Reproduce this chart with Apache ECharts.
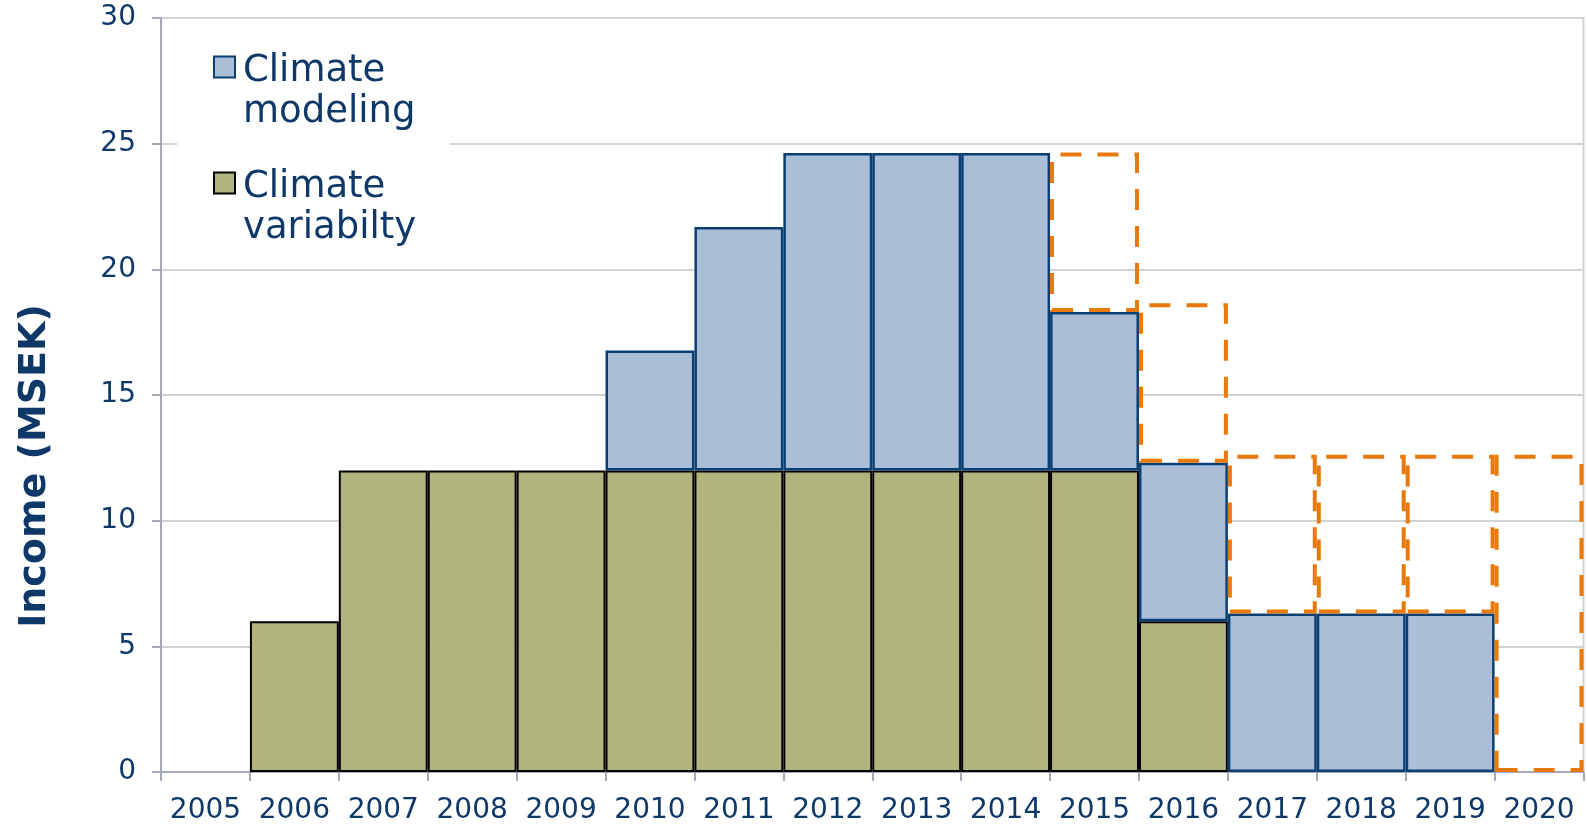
<!DOCTYPE html>
<html>
<head>
<meta charset="utf-8">
<script src="https://cdn.jsdelivr.net/npm/echarts@6/dist/echarts.min.js"></script>
<style>
html,body{margin:0;padding:0;background:#fff;}
#chart{width:1587px;height:825px;}
</style>
</head>
<body>
<div id="chart"></div>
<script>
var years = ['2005','2006','2007','2008','2009','2010','2011','2012','2013','2014','2015','2016','2017','2018','2019','2020'];
var variability = [null, 6, 12, 12, 12, 12, 12, 12, 12, 12, 12, 6, null, null, null, null];
var modeling = [null, null, null, null, null, 4.77, 9.68, 12.63, 12.63, 12.63, 6.3, 6.3, 6.31, 6.31, 6.31, null];
var planned = [null, null, null, null, null, null, null, null, null, null, 6.35, 6.35, 6.31, 6.31, 6.31, 12.62];
var yTicks = [0, 5, 10, 15, 20, 25, 30];

var navy = '#0D3868';
var font = 'DejaVu Sans, Verdana, sans-serif';
var axisGray = '#A5A8B5';
var gridGray = '#D2D2D2';

var chart = echarts.init(document.getElementById('chart'), null, {renderer: 'canvas'});
chart.setOption({
  animation: false,
  backgroundColor: '#fff',
  grid: {left: 161, right: 3.5, top: 18, bottom: 51, show: true, borderColor: gridGray, borderWidth: 2, backgroundColor: 'transparent'},
  graphic: [{
    type: 'rect', left: 177, top: 30, z: 1, silent: true,
    shape: {width: 273, height: 232},
    style: {fill: '#fff'}
  }],
  legend: {
    orient: 'vertical',
    left: 213,
    top: 21,
    padding: 0,
    icon: 'rect',
    itemWidth: 21,
    itemHeight: 21,
    itemGap: 6,
    selectedMode: false,
    formatter: function (n) {
      var parts = n.split(' ');
      return '{s| }\n{a|' + parts[0] + '}\n{a|' + parts[1] + '}';
    },
    textStyle: {
      fontFamily: font, fontSize: 37, color: navy,
      rich: {
        s: {fontSize: 10, lineHeight: 50},
        a: {fontFamily: font, fontSize: 37, lineHeight: 41, color: navy, padding: [0, 0, 0, 3]}
      }
    },
    data: [
      {name: 'Climate modeling', itemStyle: {color: '#AABFD7', borderColor: '#0A3F73', borderWidth: 2}},
      {name: 'Climate variabilty', itemStyle: {color: '#B1B57D', borderColor: '#000', borderWidth: 2}}
    ]
  },
  xAxis: {
    type: 'category',
    data: years,
    boundaryGap: true,
    axisLine: {lineStyle: {color: axisGray, width: 2}},
    axisTick: {show: true, alignWithLabel: false, length: 9, lineStyle: {color: axisGray, width: 2}},
    axisLabel: {interval: 0, margin: 25, fontFamily: font, fontSize: 28, color: navy},
    splitLine: {show: false}
  },
  yAxis: {
    type: 'value',
    min: yTicks[0],
    max: yTicks[yTicks.length - 1],
    interval: 5,
    name: 'Income (MSEK)',
    nameLocation: 'middle',
    nameRotate: 90,
    nameGap: 107,
    nameTextStyle: {fontFamily: font, fontSize: 38, fontWeight: 'bold', color: navy, padding: [0, 142, 0, 0]},
    axisLine: {show: true, lineStyle: {color: axisGray, width: 2}},
    axisTick: {show: true, inside: false, length: 9, lineStyle: {color: axisGray, width: 2}},
    axisLabel: {margin: 25, fontFamily: font, fontSize: 28, color: navy},
    splitLine: {show: true, lineStyle: {color: gridGray, width: 2}}
  },
  series: [
    {
      name: 'Climate variabilty', type: 'bar', stack: 'total', data: variability,
      barCategoryGap: '0%', barGap: '0%',
      itemStyle: {color: '#B1B57D', borderColor: '#000', borderWidth: 2},
      emphasis: {disabled: true}
    },
    {
      name: 'Climate modeling', type: 'bar', stack: 'total', data: modeling,
      barCategoryGap: '0%', barGap: '0%',
      itemStyle: {color: '#AABFD7', borderColor: '#0A3F73', borderWidth: 2.5},
      emphasis: {disabled: true}
    },
    {
      name: 'Planned', type: 'bar', stack: 'total', data: planned,
      barCategoryGap: '0%', barGap: '0%',
      itemStyle: {color: 'rgba(0,0,0,0)', borderColor: '#E8790A', borderWidth: 4, borderType: [21, 16]},
      emphasis: {disabled: true}
    }
  ]
});
</script>
</body>
</html>
